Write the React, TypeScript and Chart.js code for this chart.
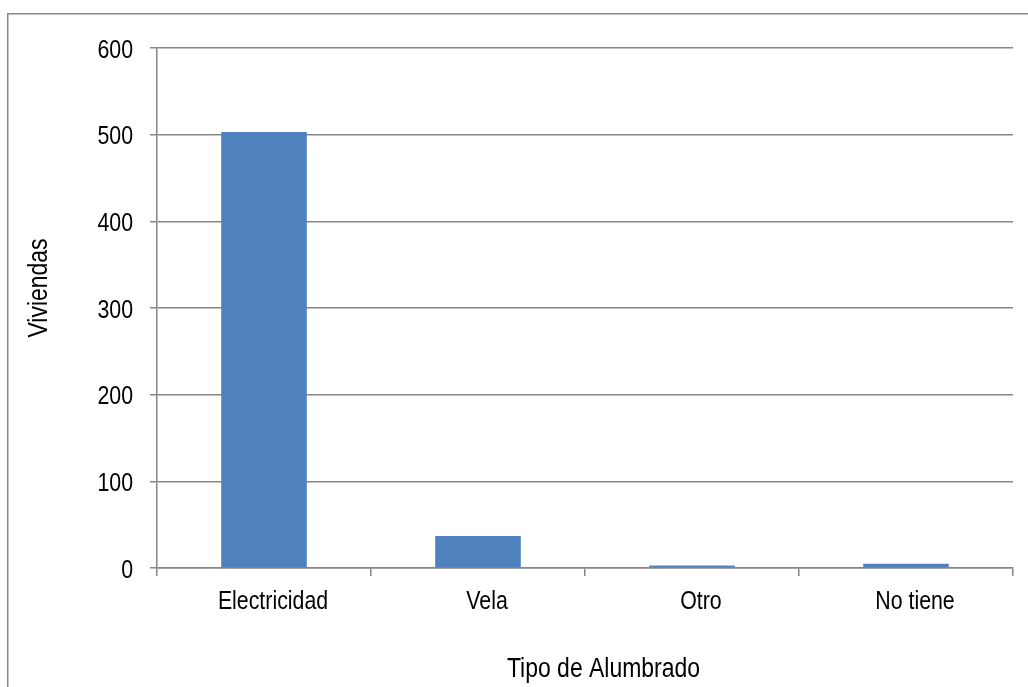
import React, { useEffect, useRef } from "react";
import { Chart, registerables } from "chart.js";

Chart.register(...registerables);

const categories = ["Electricidad", "Vela", "Otro", "No tiene"];
const viviendas = [503, 37, 3, 5];
const yTickValues = [0, 100, 200, 300, 400, 500, 600];
const xTitle = "Tipo de Alumbrado";
const yTitle = "Viviendas";

const FONT = "'Liberation Sans', Arial, sans-serif";
const NARROW = 0.82;
const GRID = "#868686";
const BAR = "#4F81BD";

function narrowText(ctx: any, text: string, x: number, y: number, align: string, rotate = false) {
  ctx.save();
  ctx.translate(x, y);
  if (rotate) ctx.rotate(-Math.PI / 2);
  ctx.scale(NARROW, 1);
  ctx.textAlign = align;
  ctx.textBaseline = "alphabetic";
  ctx.fillText(text, 0, 0);
  ctx.restore();
}

const framePlugin = {
  id: "frameAndText",
  beforeDraw(chart: any) {
    const ctx = chart.ctx;
    ctx.save();
    ctx.fillStyle = "#ffffff";
    ctx.fillRect(0, 0, chart.width, chart.height);
    ctx.strokeStyle = GRID;
    ctx.lineWidth = 1.5;
    ctx.strokeRect(7.75, 13.75, chart.width + 20, chart.height + 20);
    ctx.restore();
  },
  afterDraw(chart: any) {
    const ctx = chart.ctx;
    const xs = chart.scales.x;
    const ys = chart.scales.y;
    ctx.save();
    ctx.fillStyle = "#000000";
    ctx.font = `26px ${FONT}`;
    ys.ticks.forEach((t: any) => {
      const py = ys.getPixelForValue(t.value);
      narrowText(ctx, String(t.value), 133, py + 9.5, "right");
    });
    categories.forEach((c, i) => {
      const px = xs.getPixelForValue(i);
      narrowText(ctx, c, px + 9, 609, "center");
    });
    ctx.font = `28px ${FONT}`;
    narrowText(ctx, xTitle, 603.5, 677, "center");
    narrowText(ctx, yTitle, 47, 288, "center", true);
    ctx.restore();
  },
};

export default function App() {
  const ref = useRef<HTMLCanvasElement>(null);
  useEffect(() => {
    document.body.style.margin = "0";
    const chart = new Chart(ref.current as HTMLCanvasElement, {
      type: "bar",
      data: {
        labels: categories,
        datasets: [
          {
            label: yTitle,
            data: viviendas,
            backgroundColor: BAR,
            borderWidth: 0,
            categoryPercentage: 1,
            barPercentage: 0.4,
          },
        ],
      },
      options: {
        responsive: false,
        animation: false,
        devicePixelRatio: 1,
        layout: { padding: { top: 48, right: 15, left: 0, bottom: 0 } },
        plugins: { legend: { display: false }, tooltip: { enabled: false } },
        scales: {
          x: {
            grid: {
              offset: true,
              drawOnChartArea: false,
              drawTicks: true,
              tickLength: 8,
              color: GRID,
              lineWidth: 1.5,
            },
            border: { display: true, color: GRID, width: 1.5 },
            ticks: {
              color: "rgba(0,0,0,0)",
              font: { family: FONT, size: 26 },
              padding: 6,
              maxRotation: 0,
            },
            afterFit(scale: any) {
              scale.height = 119;
            },
          },
          y: {
            min: 0,
            max: 600,
            afterBuildTicks(scale: any) {
              scale.ticks = yTickValues.map((v) => ({ value: v }));
            },
            grid: {
              color: GRID,
              lineWidth: 1.5,
              tickLength: 7,
              drawTicks: true,
            },
            border: { display: true, color: GRID, width: 1.5 },
            ticks: {
              color: "rgba(0,0,0,0)",
              font: { family: FONT, size: 26 },
              padding: 17,
            },
            afterFit(scale: any) {
              scale.width = 157;
            },
          },
        },
      },
      plugins: [framePlugin],
    });
    return () => chart.destroy();
  }, []);
  return (
    <div style={{ position: "absolute", left: 0, top: 0, width: 1028, height: 687 }}>
      <canvas ref={ref} width={1028} height={687} style={{ width: 1028, height: 687 }} />
    </div>
  );
}
